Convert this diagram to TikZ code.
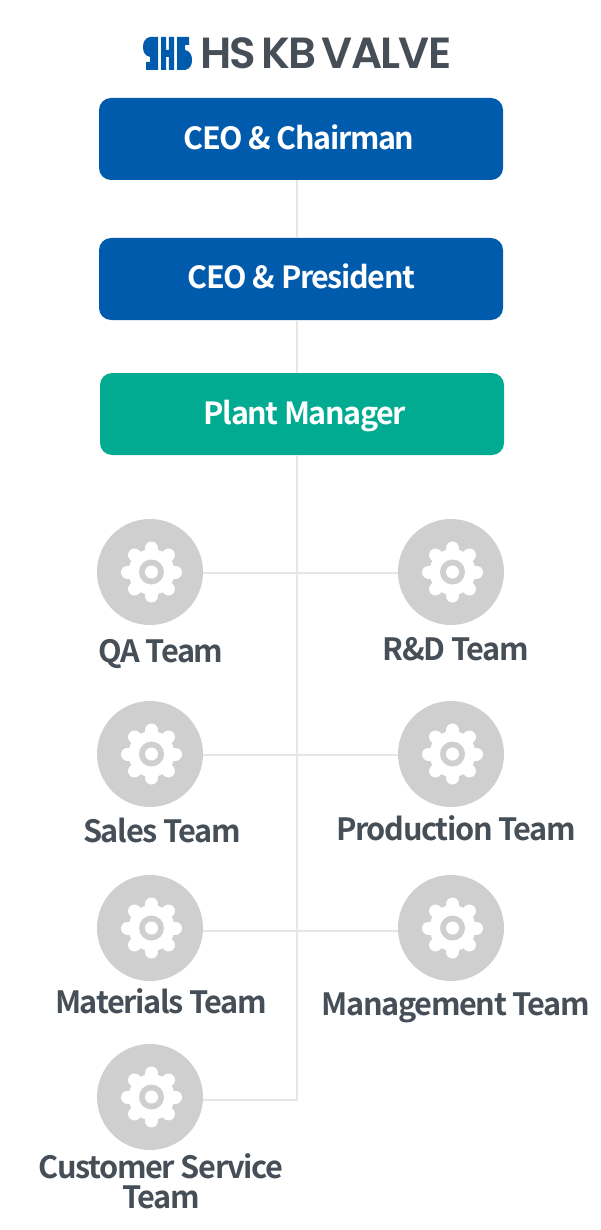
\documentclass[tikz,border=0pt]{standalone}
\usepackage{fontspec}
\setmainfont{Noto Sans CJK KR}[BoldFont={* Bold},LetterSpace=-4.5]
\newfontfamily\logofont{Poppins SemiBold}[LetterSpace=-4,WordSpace=0.6]
\definecolor{boxblue}{HTML}{005BAC}
\definecolor{boxgreen}{HTML}{00AB92}
\definecolor{inkgray}{HTML}{464F57}
\definecolor{trunkgray}{HTML}{E6E6E6}
\definecolor{disc}{HTML}{CFCFCF}
\tikzset{
 headbox/.style={rounded corners=12pt,minimum width=404pt,minimum height=82pt,inner sep=0pt},
 headlabel/.style={text=white,anchor=base,inner sep=0pt,font=\bfseries\fontsize{30.5}{31}\selectfont},
 teamdisc/.style={circle,fill=disc,minimum size=106pt,inner sep=0pt},
 teamlabel/.style={text=inkgray,anchor=base,font=\bfseries\fontsize{30.7}{31}\selectfont,inner sep=0pt},
 wire/.style={trunkgray,line width=2.4pt},
 gear/.pic={
  \foreach \a in {0,45,...,315}{\draw[white,line width=13pt,line cap=round] (0,0) -- (\a:24pt);}
  \fill[white] (0,0) circle (23pt);
  \fill[disc] (0,0) circle (12.5pt);
  \fill[white] (0,0) circle (6.5pt);
 }
}
\begin{document}
\begin{tikzpicture}[x=1pt,y=-1pt]
\useasboundingbox (0,0) rectangle (600,1230);
\coordinate (trunk) at (297,1100);
\node[headbox,fill=boxblue] (ceo) at (301,139) {};
\node[headbox,fill=boxblue] (pres) at (301,279) {};
\node[headbox,fill=boxgreen] (pm) at (302,414) {};
\node[teamdisc] (qa) at (150,572) {};
\node[teamdisc] (rd) at (451,572) {};
\node[teamdisc] (sales) at (150,754) {};
\node[teamdisc] (prod) at (451,754) {};
\node[teamdisc] (mat) at (150,928) {};
\node[teamdisc] (mgmt) at (451,928) {};
\node[teamdisc] (cs) at (150,1097) {};
\draw[wire] (ceo.south -| trunk) -- (pres.north -| trunk);
\draw[wire] (pres.south -| trunk) -- (pm.north -| trunk);
\draw[wire] (pm.south -| trunk) -- (trunk);
\draw[wire] ([yshift=-1pt]qa.east) -- ([yshift=-1pt]rd.west);
\draw[wire] ([yshift=-1pt]sales.east) -- ([yshift=-1pt]prod.west);
\draw[wire] ([yshift=-3pt]mat.east) -- ([yshift=-3pt]mgmt.west);
\draw[wire] ([yshift=-3pt]cs.east) -- ([xshift=1.2pt,yshift=-3pt]cs.east -| trunk);
\foreach \n in {qa,rd,sales,prod,mat,mgmt,cs}{\pic at ([xshift=1.5pt]\n) {gear};}
\node[headlabel] (t1) at (299,149.5) {CEO \& Chairman};
\node[headlabel] (t2) at (301.5,288.5) {CEO \& President};
\node[headlabel] (t3) at (305,424) {Plant Manager};
\node[teamlabel] (l1) at (161,662.5) {QA Team};
\node[teamlabel] (l2) at (456,660) {R\&D Team};
\node[teamlabel] (l3) at (162,842) {Sales Team};
\node[teamlabel] (l4) at (456,840) {Production Team};
\node[teamlabel] (l5) at (161,1013) {Materials Team};
\node[teamlabel] (l6) at (456,1015) {Management Team};
\node[teamlabel] (l7) at (161,1178.5) {Customer Service};
\node[teamlabel] (l8) at (161,1208.5) {Team};
\node[text=inkgray,font=\logofont\fontsize{43.6}{44}\selectfont,anchor=base west,inner sep=0pt] (logo) at (200,69) {HS KB VALVE};
% logo mark
\fill[boxblue] (158,37) -- (150,37) .. controls (145,38) and (143,42) .. (143,47) .. controls (143,52) and (145,56) .. (150,57) -- (150,62) -- (146,62) -- (146,70) -- (158,70) -- cycle;
\fill[boxblue] (177,70) -- (185,70) .. controls (190,69) and (192,65) .. (192,60) .. controls (192,55) and (190,51) .. (185,50) -- (185,45) -- (189,45) -- (189,37) -- (177,37) -- cycle;
\fill[boxblue] (161,37) -- (166.2,37) -- (166.2,50) -- (168.8,50) -- (168.8,37) -- (174,37) -- (174,70) -- (168.8,70) -- (168.8,57) -- (166.2,57) -- (166.2,70) -- (161,70) -- cycle;
\end{tikzpicture}
\end{document}
